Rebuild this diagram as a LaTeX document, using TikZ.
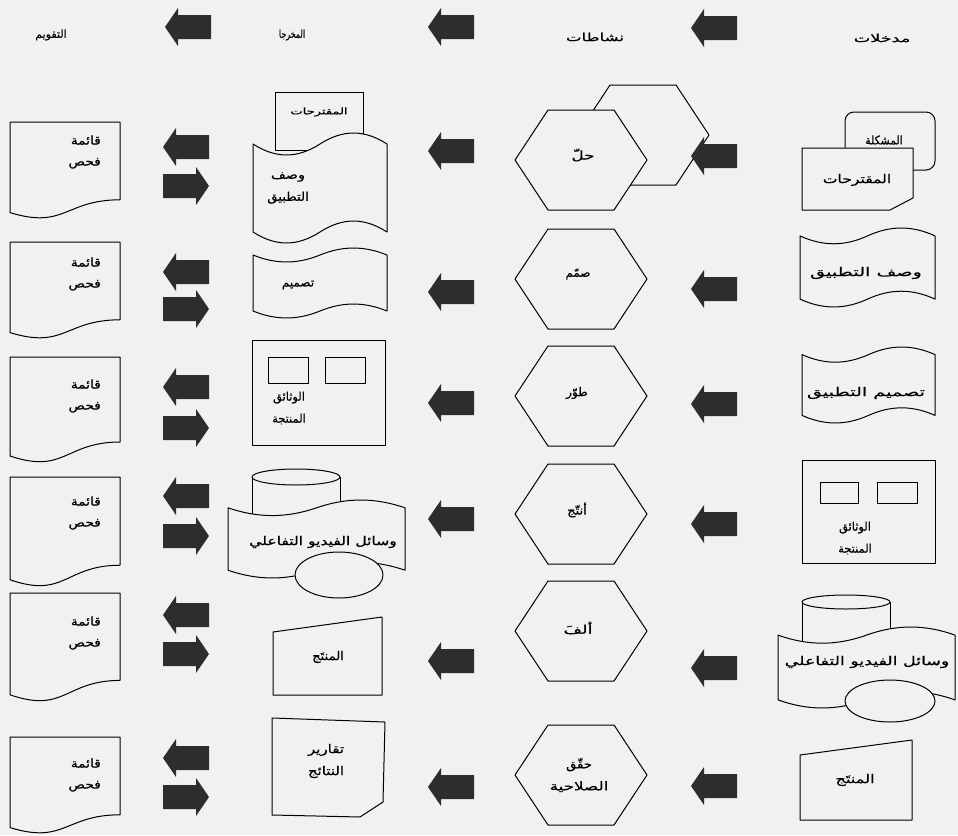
\documentclass[tikz,border=0pt]{standalone}
\usepackage{fontspec}
\usepackage{graphicx}
\TeXXeTstate=1
\newfontfamily\arabicfont[Script=Arabic,FakeBold=0.4]{DejaVu Sans}
\newcommand\sx[2]{\scalebox{#1}[1]{#2}}
\definecolor{bg}{RGB}{241,241,241}
\definecolor{arr}{RGB}{45,45,45}
\newcommand\tapeshape[4]{%
 \draw[shp, shift={(#1,#2)}] (0,{0.1*#4}) .. controls ({0.17*#3},{0.233*#4}) and ({0.33*#3},{0.233*#4}) .. ({0.5*#3},{0.1*#4}) .. controls ({0.67*#3},{-0.033*#4}) and ({0.83*#3},{-0.033*#4}) .. (#3,{0.1*#4}) -- (#3,{0.9*#4}) .. controls ({0.83*#3},{0.767*#4}) and ({0.67*#3},{0.767*#4}) .. ({0.5*#3},{0.9*#4}) .. controls ({0.33*#3},{1.033*#4}) and ({0.17*#3},{1.033*#4}) .. (0,{0.9*#4}) -- cycle;}
\newcommand\docshape[2]{%
 \draw[shp, shift={(10,#1)}] (0,0) -- (110,0) -- (110,{0.802*#2}) .. controls (55,{0.802*#2}) and (55,{1.108*#2}) .. (0,{0.934*#2}) -- cycle;}
\newcommand\hexshape[2]{%
 \draw[shp, shift={(#1,#2)}] (-66,0) -- (-33,-50) -- (33,-50) -- (66,0) -- (33,50) -- (-33,50) -- cycle;}
\begin{document}
\begin{tikzpicture}[x=1pt,y=-1pt,
  shp/.style={draw=black, line width=1pt, fill=bg, line join=round},
  lbl/.style={font=\arabicfont\fontsize{12}{22}\selectfont, inner sep=0pt, align=center},
  lblr/.style={font=\arabicfont\fontsize{12}{21}\selectfont, inner sep=0pt, align=right, anchor=east},
  sml/.style={font=\arabicfont\fontsize{9}{10}\selectfont, inner sep=0pt},
  hdr/.style={font=\arabicfont\fontsize{11}{12}\selectfont, inner sep=0pt},
  larr/.pic={\fill[arr] (-23,0) -- (-10,-19) -- (-10,-12) -- (23,-12) -- (23,12) -- (-10,12) -- (-10,19) -- cycle;},
  rarr/.pic={\fill[arr] (23,0) -- (10,-19) -- (10,-12) -- (-23,-12) -- (-23,12) -- (10,12) -- (10,19) -- cycle;}
]
\fill[bg] (0,0) rectangle (958,835);
\useasboundingbox (0,0) rectangle (958,835);

% headers
\node[hdr] (h1) at (51,35) {\sx{1}{\beginR التقويم\endR}};
\node[hdr] (h2) at (292,35) {\sx{0.72}{\beginR المخرجا\endR}};
\node[hdr] (h3) at (595,37) {\sx{1.5}{\beginR نشاطات\endR}};
\node[hdr] (h4) at (882,38) {\sx{1.6}{\beginR مدخلات\endR}};
\pic at (188,27) {larr};
\pic at (451,27) {larr};
\pic at (714,28) {larr};

% column 1 : check lists
\docshape{122}{97}
\node[lblr] (e1) at (101,152) {\sx{1.15}{\beginR قائمة\endR}\\\sx{1.15}{\beginR فحص\endR}};
\docshape{242}{97}
\node[lblr] (e2) at (101,274) {\sx{1.15}{\beginR قائمة\endR}\\\sx{1.15}{\beginR فحص\endR}};
\docshape{357}{106}
\node[lblr] (e3) at (101,396) {\sx{1.15}{\beginR قائمة\endR}\\\sx{1.15}{\beginR فحص\endR}};
\docshape{477}{110}
\node[lblr] (e4) at (101,513) {\sx{1.15}{\beginR قائمة\endR}\\\sx{1.15}{\beginR فحص\endR}};
\docshape{593}{109}
\node[lblr] (e5) at (101,633) {\sx{1.15}{\beginR قائمة\endR}\\\sx{1.15}{\beginR فحص\endR}};
\docshape{737}{97}
\node[lblr] (e6) at (101,775) {\sx{1.15}{\beginR قائمة\endR}\\\sx{1.15}{\beginR فحص\endR}};

% column 2 arrows
\foreach \ya/\yb in {147/186,272/309,387/428,496/536,615/654,758/797}{
  \pic at (186,\ya) {larr};
  \pic at (186,\yb) {rarr};
}

% column 3 : outputs
\draw[shp] (275,92) rectangle (363,150);
\node[sml] (o1a) at (319,112) {\sx{1.45}{\beginR المقترحات\endR}};
\tapeshape{253}{133}{134}{110}
\node[lbl] (o1) at (288,188) {\sx{1.2}{\beginR وصف\endR}\\\sx{1.1}{\beginR التطبيق\endR}};

\tapeshape{253}{248}{134}{70}
\node[lbl] (o2) at (298,285) {\beginR تصميم\endR};

\draw[shp] (252,340) rectangle (385,445);
\draw[shp] (268,357) rectangle (308,383);
\draw[shp] (325,357) rectangle (365,383);
\node[lbl] (o3) at (289,408) {\sx{0.95}{\beginR الوثائق\endR}\\\sx{0.95}{\beginR المنتجة\endR}};

\draw[shp] (252,477) rectangle (340,525);
\draw[shp] (296,477) ellipse [x radius=44pt, y radius=8pt];
\tapeshape{228}{500}{177}{78}
\draw[shp] (339,575) ellipse [x radius=44pt, y radius=23pt];
\node[lbl] (o4) at (323,542) {\sx{1.3}{\beginR وسائل الفيديو التفاعلي\endR}};

\draw[shp] (273,632) -- (382,617) -- (382,695) -- (273,695) -- cycle;
\node[lbl] (o5) at (328,657) {\sx{1.1}{\beginR المنتَج\endR}};

\draw[shp] (272,718) -- (385,722) -- (383,802) -- (360,817) -- (272,815) -- cycle;
\node[lbl] (o6) at (326,761) {\sx{1.25}{\beginR تقارير\endR}\\\sx{1.25}{\beginR النتائج\endR}};

% column 4 arrows
\foreach \y in {151,292,403,519,661,787}{\pic at (451,\y) {larr};}

% column 5 : activities
\hexshape{643}{135}
\hexshape{581}{160}
\node[lbl] (a1) at (583,155) {\sx{1.4}{\beginR حلّ\endR}};
\hexshape{581}{279}
\node[lbl] (a2) at (578,274) {\beginR صمّم\endR};
\hexshape{581}{396}
\node[lbl] (a3) at (577,393) {\beginR طوّر\endR};
\hexshape{581}{514}
\node[lbl] (a4) at (577,510) {\sx{1.1}{\beginR أنتّج\endR}};
\hexshape{581}{631}
\node[lbl] (a5) at (578,628) {\sx{1.5}{\beginR ألفَ\endR}};
\hexshape{581}{775}
\node[lbl] (a6) at (579,775) {\sx{1.1}{\beginR حقّق\endR}\\\sx{1.4}{\beginR الصلاحية\endR}};

% column 6 arrows
\foreach \y in {156,289,404,524,668,786}{\pic at (714,\y) {larr};}

% column 7 : inputs
\draw[shp, rounded corners=9pt] (845,112) rectangle (935,170);
\node[lbl] (i1a) at (884,140) {\sx{0.9}{\beginR المشكلة\endR}};
\draw[shp] (802,148) -- (913,148) -- (913,198) -- (890,210) -- (802,210) -- cycle;
\node[lbl] (i1b) at (857,180) {\sx{1.3}{\beginR المقترحات\endR}};

\tapeshape{800}{228}{135}{79}
\node[lbl] (i2) at (866,273) {\sx{1.6}{\beginR وصف التطبيق\endR}};

\tapeshape{802}{347}{133}{76}
\node[lbl] (i3) at (866,393) {\sx{1.6}{\beginR تصميم التطبيق\endR}};

\draw[shp] (802,460) rectangle (935,563);
\draw[shp] (820,482) rectangle (858,503);
\draw[shp] (877,482) rectangle (917,503);
\node[lbl] (i4) at (855,538) {\sx{0.95}{\beginR الوثائق\endR}\\\sx{0.95}{\beginR المنتجة\endR}};

\draw[shp] (802,602) rectangle (890,645);
\draw[shp] (846,602) ellipse [x radius=44pt, y radius=7pt];
\tapeshape{778}{627}{177}{81}
\draw[shp] (890,701) ellipse [x radius=45pt, y radius=21pt];
\node[lbl] (i5) at (867,662) {\sx{1.45}{\beginR وسائل الفيديو التفاعلي\endR}};

\draw[shp] (800,755) -- (912,740) -- (912,820) -- (800,820) -- cycle;
\node[lbl] (i6) at (855,780) {\sx{1.35}{\beginR المنتَج\endR}};
\end{tikzpicture}
\end{document}
